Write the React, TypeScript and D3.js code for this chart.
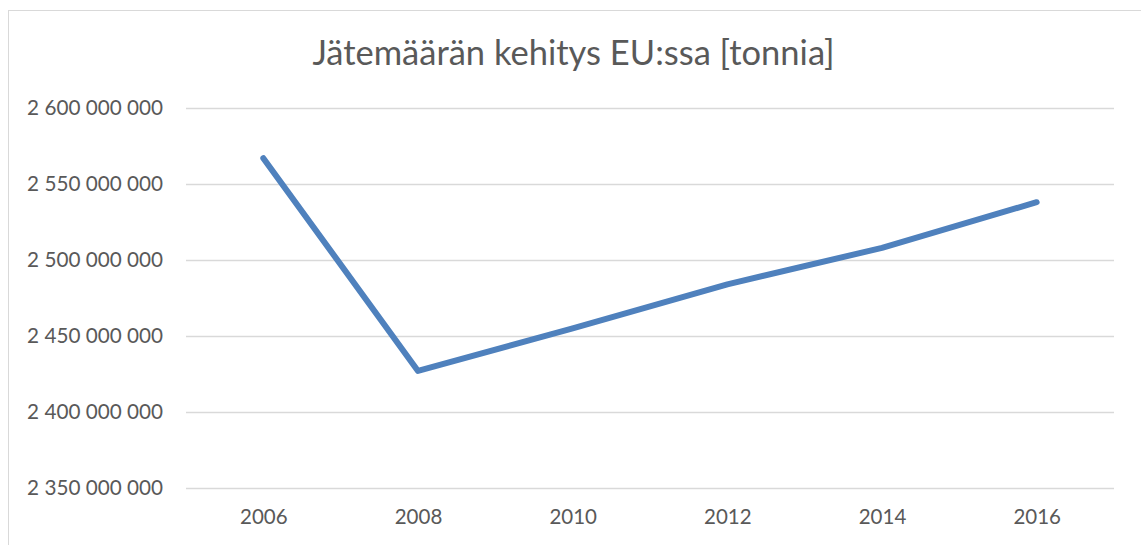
import { useEffect, useRef } from 'react';
import * as d3 from 'd3';

const years = ['2006', '2008', '2010', '2012', '2014', '2016'];
const wasteTonnes = [2567000000, 2427000000, 2455000000, 2484000000, 2508000000, 2538000000];
const yTicks = [2350000000, 2400000000, 2450000000, 2500000000, 2550000000, 2600000000];
const title = 'Jätemäärän kehitys EU:ssa [tonnia]';

const W = 1141;
const H = 545;
const plot = { left: 186, right: 1114, top: 108, bottom: 488 };
const font = 'Lato, "Open Sans", sans-serif';
const textColor = '#595959';
const gridColor = '#d9d9d9';

const fmt = (v: number) => d3.format(',')(v).replace(/,/g, ' ');

const App = () => {
    const svgRef = useRef<SVGSVGElement>(null);

    useEffect(() => {
        const svg = d3.select(svgRef.current);
        svg.selectAll('*').remove();

        svg.append('rect')
            .attr('x', 8.5)
            .attr('y', 10.5)
            .attr('width', W)
            .attr('height', H)
            .attr('fill', '#fff')
            .attr('stroke', gridColor)
            .attr('stroke-width', 1);

        const x = d3.scalePoint().domain(years).range([plot.left, plot.right]).padding(0.5);
        const y = d3.scaleLinear().domain([2350000000, 2600000000]).range([plot.bottom, plot.top]);

        // gridlines + y labels
        const yAxis = svg.append('g')
            .attr('transform', `translate(${plot.left},0)`)
            .call(d3.axisLeft(y).tickValues(yTicks).tickSize(-(plot.right - plot.left)).tickPadding(23).tickFormat(d => fmt(+d)));
        yAxis.select('.domain').remove();
        yAxis.selectAll('line').attr('stroke', gridColor).attr('stroke-width', 1.3);
        yAxis.selectAll('text')
            .attr('fill', textColor)
            .style('font-family', font)
            .style('font-size', '20.7px');

        const xAxis = svg.append('g')
            .attr('transform', `translate(0,${plot.bottom})`)
            .call(d3.axisBottom(x).tickSize(0).tickPadding(21));
        xAxis.select('.domain').remove();
        xAxis.selectAll('text')
            .attr('fill', textColor)
            .style('font-family', font)
            .style('font-size', '20.5px');

        const line = d3.line<number>()
            .x((d, i) => x(years[i]) as number)
            .y(d => y(d));

        svg.append('path')
            .datum(wasteTonnes)
            .attr('d', line)
            .attr('fill', 'none')
            .attr('stroke', '#4f81bd')
            .attr('stroke-width', 6)
            .attr('stroke-linecap', 'round')
            .attr('stroke-linejoin', 'round');

        svg.append('text')
            .attr('x', 573.5)
            .attr('y', 65)
            .attr('text-anchor', 'middle')
            .attr('fill', textColor)
            .style('font-family', font)
            .style('font-size', '34.5px')
            .text(title);
    }, []);

    return (
        <svg
            ref={svgRef}
            width={W}
            height={H}
            style={{ position: 'absolute', left: 0, top: 0, display: 'block' }}
        />
    );
};

export default App;
